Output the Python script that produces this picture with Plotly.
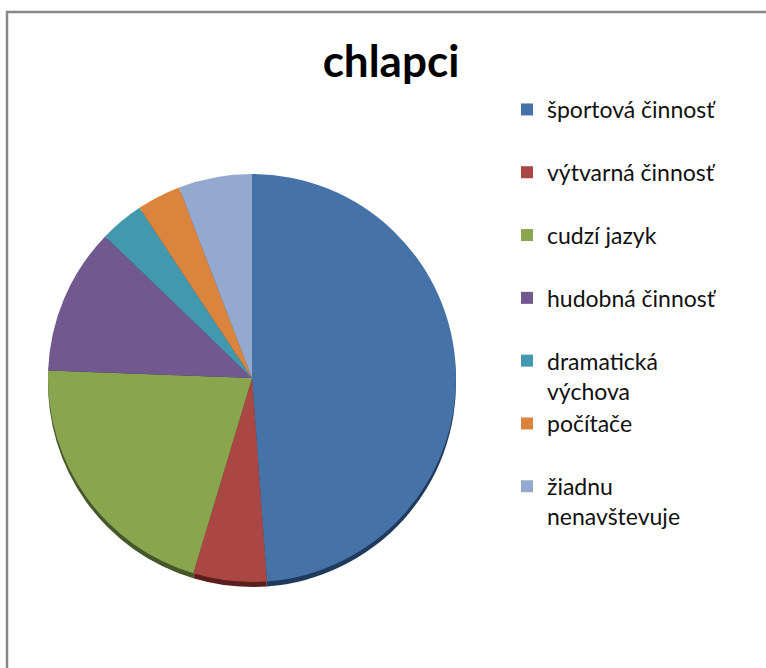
import plotly.graph_objects as go

# Data
categories = ["športová činnosť", "výtvarná činnosť", "cudzí jazyk", "hudobná činnosť",
              "dramatická výchova", "počítače", "žiadnu nenavštevuje"]
legend_labels = ["športová činnosť<br> ", "výtvarná činnosť<br> ", "cudzí jazyk<br> ",
                 "hudobná činnosť<br> ", "dramatická<br>výchova", "počítače<br> ",
                 "žiadnu<br>nenavštevuje"]
values = [42, 5, 18, 10, 3, 3, 5]

colors = ["#4572A7", "#AA4643", "#89A54E", "#71588F", "#4198AF", "#DB843D", "#93A9CF"]
shadow_colors = ["#1F3A5C", "#5A1F1D", "#45582A", "#3A2B4C", "#1F4E5A", "#744216", "#4A5A78"]

W, H = 766, 668
cx, cy, r = 252, 378, 204   # pixel geometry of the pie
shadow_dy = 5


def dom(cx, cy, r):
    return dict(x=[(cx - r) / W, (cx + r) / W],
                y=[(H - cy - r) / H, (H - cy + r) / H])


fig = go.Figure()
fig.add_trace(go.Pie(
    labels=[l + " " for l in legend_labels], values=values, sort=False,
    direction="clockwise", rotation=0, textinfo="none", hoverinfo="skip",
    marker=dict(colors=shadow_colors, line=dict(width=0)),
    showlegend=False, domain=dom(cx, cy + shadow_dy, r),
))
fig.add_trace(go.Pie(
    labels=legend_labels, values=values, sort=False, customdata=categories,
    direction="clockwise", rotation=0, textinfo="none",
    hovertemplate="%{customdata}: %{value}<extra></extra>",
    marker=dict(colors=colors, line=dict(width=0)),
    domain=dom(cx, cy, r),
))

fig.update_layout(
    width=W, height=H,
    margin=dict(l=0, r=0, t=0, b=0),
    paper_bgcolor="white", plot_bgcolor="white",
    title=dict(text="<b>chlapci</b>", x=391 / W, xanchor="center", xref="paper",
               y=1 - 62 / H, yanchor="middle", yref="paper",
               font=dict(family="Lato, Open Sans, sans-serif", size=44, color="black")),
    legend=dict(x=507 / W, xanchor="left", y=1 - 88 / H, yanchor="top",
                font=dict(family="Lato, Open Sans, sans-serif", size=23, color="#111111"),
                valign="top", bgcolor="rgba(0,0,0,0)", itemclick=False),
    shapes=[dict(type="rect", xref="paper", yref="paper",
                 x0=7 / W, x1=1 + 20 / W, y0=-20 / H, y1=1 - 12 / H,
                 line=dict(color="#888888", width=2.5), fillcolor="rgba(0,0,0,0)", layer="below")],
)

fig.write_html("out.html", config={"displayModeBar": False},
               post_script="document.body.style.margin='0';")
